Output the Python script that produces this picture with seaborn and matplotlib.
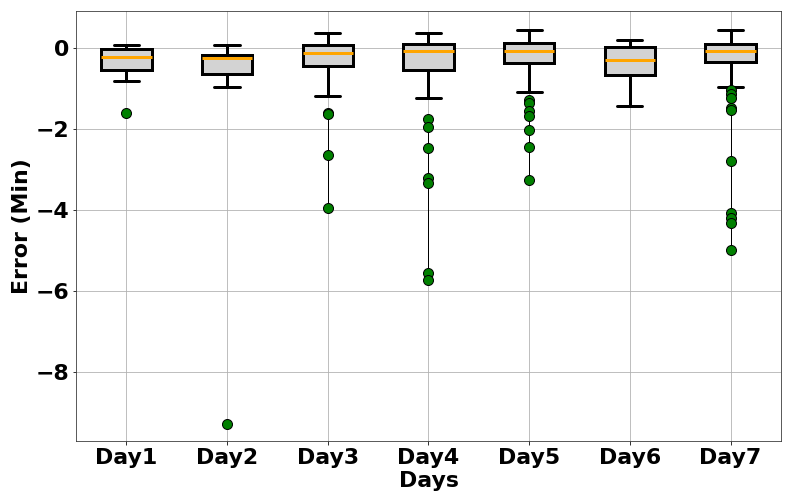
import numpy as np
import pandas as pd
import matplotlib
matplotlib.use("Agg")
import matplotlib.pyplot as plt
import seaborn as sns

# Values (minutes)
days = ["Day1", "Day2", "Day3", "Day4", "Day5", "Day6", "Day7"]
whisker_low = [-0.81, -0.97, -1.17, -1.22, -1.09, -1.44, -0.97]
q1 = [-0.53, -0.63, -0.43, -0.55, -0.37, -0.65, -0.35]
median = [-0.22, -0.25, -0.11, -0.08, -0.08, -0.30, -0.08]
q3 = [-0.01, -0.17, 0.07, 0.10, 0.12, 0.02, 0.10]
whisker_high = [0.08, 0.09, 0.39, 0.39, 0.44, 0.21, 0.44]
outliers = [
    [-1.59],
    [-9.30],
    [-1.59, -1.62, -2.63, -3.96],
    [-1.76, -1.96, -2.47, -3.20, -3.34, -5.56, -5.73],
    [-1.27, -1.35, -1.56, -1.68, -2.02, -2.45, -3.27],
    [],
    [-1.04, -1.14, -1.23, -1.49, -1.53, -2.80, -4.08, -4.20, -4.33, -4.99],
]


def sample_from_stats(lo, a, m, b, hi, fl):
    """Build a sample whose quartiles / whiskers / fliers equal the read values."""
    k = len(fl)
    n = k + 1
    vals = list(fl) + [lo, a] + [m] * n + [b] * n + [b] * (n - 1) + [hi]
    return vals


rows = []
for i, d in enumerate(days):
    for v in sample_from_stats(whisker_low[i], q1[i], median[i], q3[i],
                               whisker_high[i], outliers[i]):
        rows.append((d, v))
df = pd.DataFrame(rows, columns=["day", "err"])

sns.set_style("ticks")
plt.rcParams["font.family"] = ["DejaVu Sans"]
plt.rcParams["font.weight"] = "bold"
plt.rcParams["text.color"] = "black"
plt.rcParams["axes.labelcolor"] = "black"
plt.rcParams["xtick.color"] = "black"
plt.rcParams["ytick.color"] = "black"

fig, ax = plt.subplots(figsize=(11, 7), dpi=72)
fig.subplots_adjust(left=0.096, right=0.986, top=0.978, bottom=0.125)

sns.boxplot(
    data=df, x="day", y="err", order=days, ax=ax,
    width=0.5, color="lightgray", linecolor="black", linewidth=3,
    boxprops=dict(facecolor="lightgray", edgecolor="black", linewidth=3),
    whiskerprops=dict(color="black", linewidth=3),
    capprops=dict(color="black", linewidth=3),
    medianprops=dict(color="orange", linewidth=3),
    flierprops=dict(marker="o", markerfacecolor="green", markeredgecolor="black",
                    markersize=10, linestyle="-", color="black", linewidth=1),
)

ax.set_ylim(-9.72, 0.92)
ax.grid(True, color="#b0b0b0", linewidth=0.8)
ax.set_axisbelow(True)
ax.set_xlabel("Days", fontsize=22, fontweight="bold", labelpad=3, color="black")
ax.set_ylabel("Error (Min)", fontsize=22, fontweight="bold", labelpad=3, color="black")
ax.tick_params(labelsize=22, colors="black")
for lab in ax.get_xticklabels() + ax.get_yticklabels():
    lab.set_fontweight("bold")
for s in ax.spines.values():
    s.set_visible(True)
    s.set_color("#333333")

fig.savefig("out.png", dpi=72)
